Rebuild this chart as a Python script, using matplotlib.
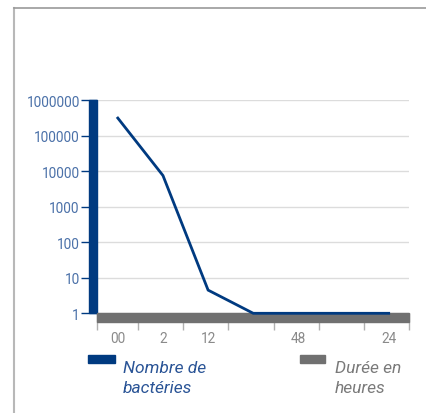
import matplotlib
matplotlib.use("Agg")
import matplotlib.pyplot as plt
from matplotlib.patches import Rectangle
from matplotlib.lines import Line2D

categories = ["00", "2", "12", "", "48", "", "24"]
bacteria = [316000, 7600, 4.5, 1, 1, 1, 1]
yticks = [1, 10, 100, 1000, 10000, 100000, 1000000]
ytick_labels = ["1", "10", "100", "1000", "10000", "100000", "1000000"]
legend_labels = ["Nombre de\nbactéries", "Durée en\nheures"]

BLUE = "#003a80"
GRAY = "#707070"
YLAB = "#4a70a8"
XLAB = "#8a8a8a"

W, H = 427, 414
fig = plt.figure(figsize=(W / 100, H / 100), dpi=100)
plt.rcParams['font.family'] = ['Roboto', 'DejaVu Sans']

def fx(px):
    return px / W

def fy(py):
    return 1 - py / H

ax_l, ax_r, ax_t, ax_b = 97.5, 409, 101.3, 314.3
ax = fig.add_axes([fx(ax_l), fy(ax_b), fx(ax_r - ax_l), (ax_b - ax_t) / H])

x = list(range(len(categories)))
ax.plot(x, bacteria, color=BLUE, lw=2.0, solid_joinstyle='miter', zorder=5, clip_on=False)
ax.set_yscale('log')
ax.set_ylim(1, 1000000)
ax.set_xlim(-0.45, 6.45)

for s in ax.spines.values():
    s.set_visible(False)

ax.set_yticks(yticks)
ax.set_yticklabels(ytick_labels)
ax.yaxis.set_minor_locator(matplotlib.ticker.NullLocator())
ax.tick_params(axis='y', which='major', length=11.2, width=1.0, color=BLUE,
               labelcolor=YLAB, labelsize=9.8, pad=1.5)
ax.grid(axis='y', color='#dcdcdc', lw=1.0, zorder=0)

# x axis: boundary ticks (major, no labels) and category labels (minor)
ax.set_xticks([-0.45, 0.45, 1.45, 2.45, 3.45, 4.45, 5.45, 6.45])
ax.set_xticklabels([""] * 8)
ax.set_xticks(x, minor=True)
ax.set_xticklabels(categories, minor=True)
ax.tick_params(axis='x', which='major', length=12, width=1.0, color='#b0b0b0')
ax.tick_params(axis='x', which='minor', length=0, labelcolor=XLAB, labelsize=9.8, pad=12.5)

# thick axis bars
ax_w = ax_r - ax_l
ax_h = ax_b - ax_t
ax.add_patch(Rectangle((-8.5 / ax_w, 0), 8.5 / ax_w, 1, transform=ax.transAxes,
                       color=BLUE, clip_on=False, zorder=4))
ax.add_patch(Rectangle((0, -8.5 / ax_h), 1, 8.5 / ax_h, transform=ax.transAxes,
                       color=GRAY, clip_on=False, zorder=4))

# frame lines
fig.add_artist(Line2D([fx(14), fx(14)], [fy(9), 0], color='#b8b8b8', lw=1.5))
fig.add_artist(Line2D([fx(14), 1], [fy(9), fy(9)], color='#999999', lw=1.2))

# legend
fig.add_artist(Rectangle((fx(88), fy(364)), fx(27), 8 / H, color=BLUE))
fig.text(fx(123), fy(393), legend_labels[0], color="#2a5496", fontsize=12.5,
         style='italic', ha='left', va='baseline', linespacing=1.45)
fig.add_artist(Rectangle((fx(300), fy(364)), fx(25), 8 / H, color=GRAY))
fig.text(fx(335), fy(393), legend_labels[1], color="#7a7a7a", fontsize=12.5,
         style='italic', ha='left', va='baseline', linespacing=1.45)

fig.savefig("out.png", dpi=100)
